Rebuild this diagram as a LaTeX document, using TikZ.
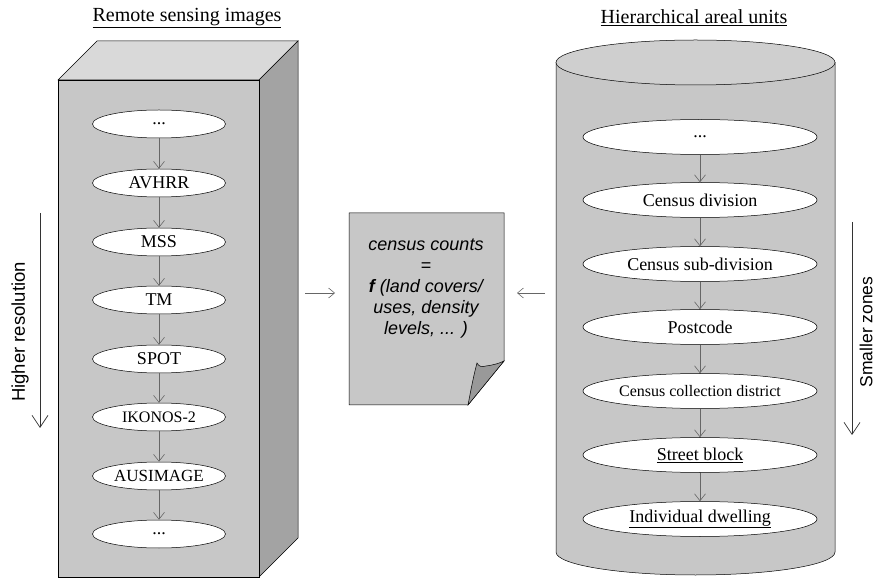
\documentclass[tikz,border=0pt]{standalone}
\usepackage{fontspec}
\setmainfont{Liberation Serif}
\setsansfont{Liberation Sans}
\usetikzlibrary{shapes.geometric,arrows.meta}
\begin{document}
\begin{tikzpicture}[x=1pt,y=1pt,
  lbl/.style={ellipse,draw=black,line width=0.5pt,fill=white,inner sep=0pt,font=\fontsize{18}{20}\selectfont},
  lell/.style={lbl,minimum width=133,minimum height=28},
  rell/.style={lbl,minimum width=234,minimum height=35},
  small/.style={font=\fontsize{16}{18}\selectfont},
  link/.style={draw=black!60,line width=0.6pt,-{Straight Barb[length=7pt,width=11pt]}},
  bigarrow/.style={draw=black!80,line width=0.7pt,-{Straight Barb[length=12pt,width=16pt]}},
  midarrow/.style={draw=black!60,line width=0.6pt,-{Straight Barb[length=6pt,width=10pt]}},
  title/.style={font=\fontsize{20}{22}\selectfont},
  side/.style={font=\sffamily\fontsize{18.5}{20}\selectfont,rotate=90,inner sep=0pt}
]
\useasboundingbox (0,0) rectangle (876,579);
% left box
\draw[line width=0.5pt,fill=black!15] (58,499) -- (97,538) -- (298,538) -- (259,499) -- cycle;
\draw[line width=0.5pt,fill=black!36] (259,499) -- (298,538) -- (298,41) -- (259,2) -- cycle;
\draw[line width=0.5pt,fill=black!22] (58,2) rectangle (259,499);
\node[title] (t1) at (187,561) {\underline{Remote sensing images}};
\node[lell] (l1) at (159,455) {...};
\node[lell] (l2) at (159,396) {AVHRR};
\node[lell] (l3) at (159,337) {MSS};
\node[lell] (l4) at (159,279) {TM};
\node[lell] (l5) at (159,220) {SPOT};
\node[lell,small] (l6) at (159,162) {IKONOS-2};
\node[lell,font=\fontsize{17}{18}\selectfont] (l7) at (159,103) {AUSIMAGE};
\node[lell] (l8) at (159,45) {...};
\foreach \a/\b in {l1/l2,l2/l3,l3/l4,l4/l5,l5/l6,l6/l7,l7/l8}
  \draw[link] (\a) -- (\b);
\coordinate (ha) at (40,366);
\coordinate (hb) at (40,151);
\draw[bigarrow] (ha) -- (hb);
\node[side] (hr) at (20,247) {Higher resolution};
% right cylinder
\draw[line width=0.5pt,fill=black!22] (556,516.5) -- (556,27) arc[start angle=180,end angle=360,x radius=139.5,y radius=23] -- (835,516.5) -- cycle;
\draw[line width=0.5pt,fill=black!19] (695.5,516.5) ellipse[x radius=139.5,y radius=22.5];
\node[title] (t2) at (694,561) {\underline{Hierarchical areal units}};
\node[rell] (r1) at (700,442) {...};
\node[rell] (r2) at (700,379) {Census division};
\node[rell] (r3) at (700,315) {Census sub-division};
\node[rell] (r4) at (700,252) {Postcode};
\node[rell,small] (r5) at (700,188) {Census collection district};
\node[rell] (r6) at (700,124) {\underline{Street block}};
\node[rell] (r7) at (700,60) {\underline{Individual dwelling}};
\foreach \a/\b in {r1/r2,r2/r3,r3/r4,r4/r5,r5/r6,r6/r7}
  \draw[link] (\a) -- (\b);
\coordinate (sa) at (852,357);
\coordinate (sb) at (852,144);
\draw[bigarrow] (sa) -- (sb);
\node[side,font=\sffamily\fontsize{17.5}{20}\selectfont] (sz) at (866,247) {Smaller zones};
% middle document
\draw[line width=0.5pt,fill=black!22] (349,366) -- (504,366) -- (504,218) -- (468,174) -- (349,174) -- cycle;
\draw[line width=0.5pt,fill=black!40] (504,218) -- (468,174) .. controls (471,190) and (474,205) .. (477,216) .. controls (479,212) and (482,212) .. (486,213) .. controls (494,214) and (500,216) .. (504,218) -- cycle;
\node[font=\sffamily\itshape\fontsize{18}{21}\selectfont,align=center] (doc) at (426,290)
  {census counts\\=\\\textbf{f} (land covers/\\uses, density\\levels, ... )};
\coordinate (dl) at (305,286);
\coordinate (dr) at (545,286);
\draw[midarrow] (dl) -- (335,286);
\draw[midarrow] (dr) -- (517,286);
\end{tikzpicture}
\end{document}
